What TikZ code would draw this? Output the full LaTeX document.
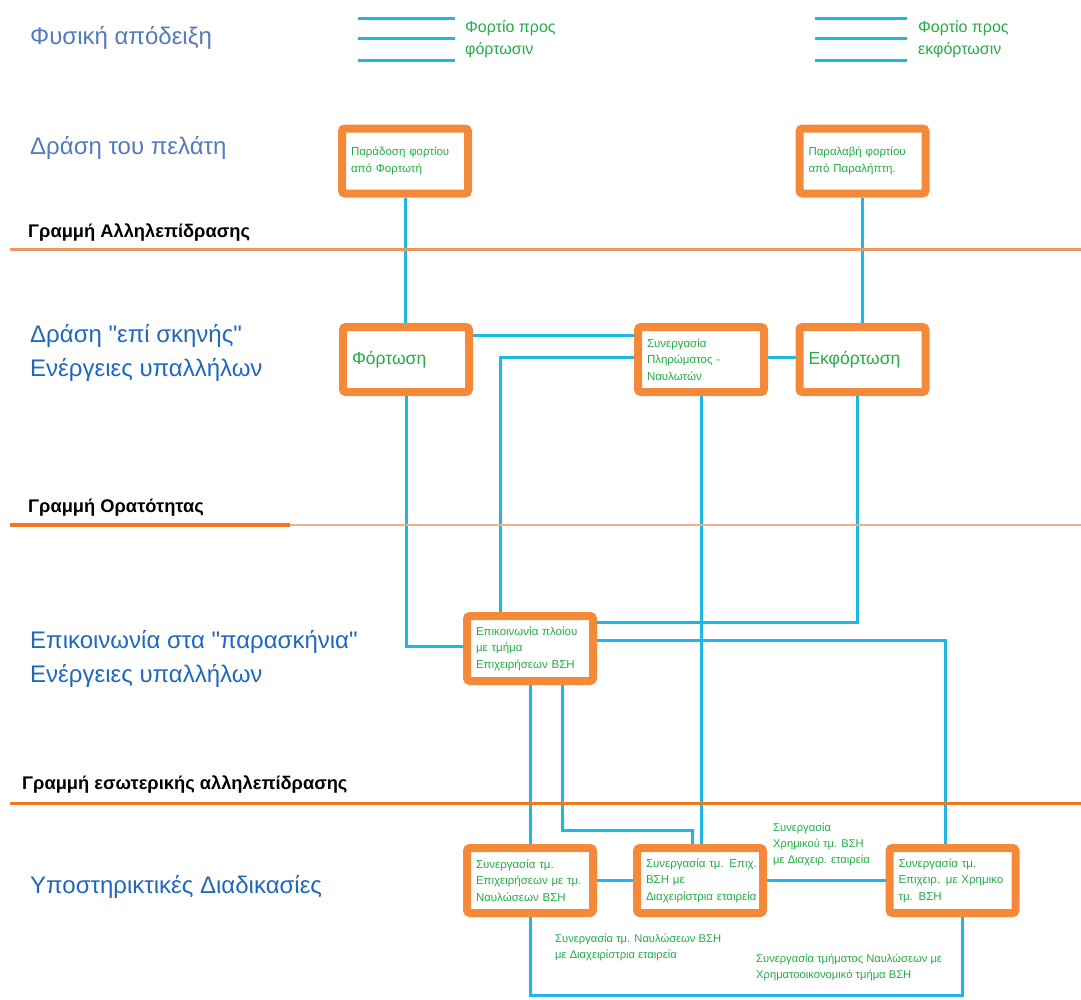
\documentclass[tikz,border=0pt]{standalone}
\usepackage{fontspec}
\setmainfont{Liberation Sans}
\usetikzlibrary{backgrounds}
\definecolor{boxorange}{RGB}{245,137,58}
\definecolor{laneorange}{RGB}{238,150,95}
\definecolor{lanedark}{RGB}{240,120,30}
\definecolor{lanelight}{RGB}{242,175,135}
\definecolor{flowcyan}{RGB}{32,182,230}
\definecolor{flowgreen}{RGB}{36,172,70}
\definecolor{steelblue}{RGB}{84,122,190}
\definecolor{zoneblue}{RGB}{32,104,190}
\newcommand{\qq}{\textquotedbl}
\begin{document}
\begin{tikzpicture}[x=1pt,y=-1pt,
  stagebox/.style={draw=boxorange, line width=8pt, rounded corners=3pt, fill=white,
    minimum width=126pt, minimum height=65pt, inner sep=0pt, text width=108pt,
    align=left, text=flowgreen, font=\fontsize{11.5}{16.5}\selectfont},
  bigbox/.style={stagebox, font=\fontsize{17.5}{20}\selectfont},
  flow/.style={draw=flowcyan, line width=3pt},
  lane/.style={draw=laneorange, line width=3pt},
  zonetitle/.style={anchor=west, inner sep=0pt, align=left, text=steelblue, font=\fontsize{24}{34}\selectfont},
  zonemain/.style={anchor=west, inner sep=0pt, align=left, text=zoneblue, font=\fontsize{24}{34}\selectfont},
  linelabel/.style={anchor=west, inner sep=0pt, text=black, font=\bfseries\fontsize{18.3}{20}\selectfont},
  flowlabel/.style={anchor=west, inner sep=0pt, align=left, text=flowgreen, font=\fontsize{11.2}{16}\selectfont},
  legendtext/.style={anchor=west, inner sep=0pt, align=left, text=flowgreen, font=\fontsize{16}{22}\selectfont}]
\useasboundingbox (0,0) rectangle (1081,999);

% zone titles
\node[zonetitle] (tproof) at (30,38) {Φυσική απόδειξη};
\node[zonetitle] (tcust) at (30,148) {Δράση του πελάτη};
\node[zonemain] (tstage) at (30,353) {Δράση \qq επί σκηνής\qq\\Ενέργειες υπαλλήλων};
\node[zonemain] (tback) at (30,659) {Επικοινωνία στα \qq παρασκήνια\qq\\Ενέργειες υπαλλήλων};
\node[zonemain] (tsupp) at (30,887) {Υποστηρικτικές Διαδικασίες};

% separating lines
\node[linelabel] (linter) at (28,233) {Γραμμή Αλληλεπίδρασης};
\draw[lane] (10,249) -- (1081,249);
\node[linelabel] (lvis) at (28,508) {Γραμμή Ορατότητας};
\draw[draw=lanelight, line width=2.5pt] (290,525) -- (1081,525);
\draw[draw=lanedark, line width=4pt] (10,525) -- (290,525);
\node[linelabel] (lint) at (22,785) {Γραμμή εσωτερικής αλληλεπίδρασης};
\draw[draw=lanedark, line width=3pt] (10,803) -- (1081,803);

% legend
\foreach \y in {18,38,60} {
  \draw[flow] (358,\y) -- (455,\y);
  \draw[flow] (815,\y) -- (907,\y);
}
\node[legendtext] (leg1) at (465,39) {Φορτίο προς\\φόρτωσιν};
\node[legendtext] (leg2) at (918,39) {Φορτίο προς\\εκφόρτωσιν};

% process boxes
\node[stagebox] (b1) at (405,161) {\mbox{Παράδοση φορτίου}\\από Φορτωτή};
\node[stagebox] (b2) at (862.5,161) {\mbox{Παραλαβή φορτίου}\\\mbox{από Παραλήπτη.}};
\node[bigbox] (b3) at (406,359.5) {Φόρτωση};
\node[stagebox] (b4) at (701,359.5) {Συνεργασία\\Πληρώματος -\\Ναυλωτών};
\node[bigbox] (b5) at (862.5,359.5) {Εκφόρτωση};
\node[stagebox] (b6) at (530,648.5) {\mbox{Επικοινωνία πλοίου}\\με τμήμα\\\mbox{Επιχειρήσεων ΒΣΗ}};
\node[stagebox] (b7) at (530,880.5) {Συνεργασία τμ.\\\mbox{Επιχειρήσεων με τμ.}\\\mbox{Ναυλώσεων ΒΣΗ}};
\node[stagebox] (b8) at (700,880.5) {\mbox{Συνεργασία τμ. Επιχ.}\\ΒΣΗ με\\\mbox{Διαχειρίστρια εταιρεία}};
\node[stagebox] (b9) at (952.5,880.5) {Συνεργασία τμ.\\\mbox{Επιχειρ. με Χρημικο}\\τμ. ΒΣΗ};

% connector labels
\node[flowlabel] (f89) at (773,844) {Συνεργασία\\Χρημικού τμ. ΒΣΗ\\με Διαχειρ. εταιρεία};
\node[flowlabel] (f78) at (555,947) {Συνεργασία τμ. Ναυλώσεων ΒΣΗ\\με Διαχειρίστρια εταιρεία};
\node[flowlabel] (f79) at (756,967) {Συνεργασία τμήματος Ναυλώσεων με\\Χρηματοοικονομικό τμήμα ΒΣΗ};

% junction points
\coordinate (j1) at (562,830);
\coordinate (j2) at (692,830);
\coordinate (j3) at (530,995);

% connectors, drawn behind the boxes
\begin{scope}[on background layer]
  \fill[white] (0,0) rectangle (1081,999);
  \draw[flow] (b1.south) -- (b1.south |- b3.north);
  \draw[flow] (b2.south) -- (b2.south |- b5.north);
  \draw[flow] (b3.south) |- ([yshift=2pt]b6.west);
  \draw[flow] ([yshift=24pt]b3.east) -- ([yshift=24pt]b3.east -| b4.west);
  \draw[flow] ([yshift=2pt]b4.west) -| ([xshift=-30pt]b6.north);
  \draw[flow] ([yshift=2pt]b4.east) -- ([yshift=2pt]b5.west);
  \draw[flow] (b4.south) -- (b4.south |- b8.north);
  \draw[flow] ([xshift=-5pt]b5.south) |- ([yshift=26pt]b6.east);
  \draw[flow] ([yshift=8pt]b6.east) -| ([xshift=-7pt]b9.north);
  \draw[flow] (b6.south) -- (b7.north);
  \draw[flow] (j1 |- b6.south) -- (j1) -- (j2) -- (j2 |- b8.north);
  \draw[flow] (b7.east) -- (b8.west);
  \draw[flow] (b8.east) -- (b9.west);
  \draw[flow] (b7.south) -- (j3) -| ([xshift=10pt]b9.south);
\end{scope}
\end{tikzpicture}
\end{document}
